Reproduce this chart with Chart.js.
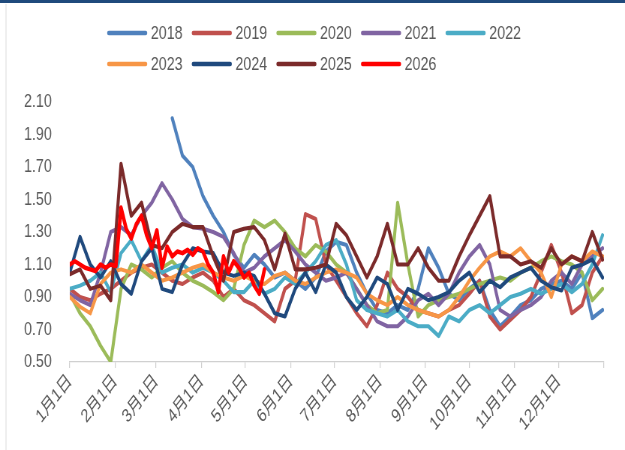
<!DOCTYPE html>
<html>
<head>
<meta charset="utf-8">
<script src="https://cdn.jsdelivr.net/npm/chart.js@4.4.1/dist/chart.umd.min.js"></script>
<style>
  html, body { margin: 0; padding: 0; background: #ffffff; }
  #wrap { width: 625px; height: 450px; overflow: hidden; background: #ffffff; }
</style>
</head>
<body>
<div id="wrap"><canvas id="c" width="833" height="450" style="display:block;width:625px;height:450px;"></canvas></div>
<script>
// ---------- data ----------
const seriesNames = ['2018','2019','2020','2021','2022','2023','2024','2025','2026'];
const monthLabels = ['1月1日','2月1日','3月1日','4月1日','5月1日','6月1日','7月1日','8月1日','9月1日','10月1日','11月1日','12月1日'];
const monthStartDays = [0,31,59,90,120,151,181,212,243,273,304,334,365];
const yTickValues = [0.50,0.70,0.90,1.10,1.30,1.50,1.70,1.90,2.10];

// day-of-year of each weekly observation
const weekDays = [0,7,14,21,28,35,42,49,56,63,70,77,84,91,98,105,112,119,126,133,140,147,154,161,168,175,182,189,196,203,210,217,224,231,238,245,252,259,266,273,280,287,294,301,308,315,322,329,336,343,350,357,364];
// day-of-year of each 2026 observation
const days2026 = [0,3.5,7,10.5,14,17.5,21,24.5,28,31.5,35,38.5,42,45.5,49,52.5,56,59.5,63,66.5,70,73.5,77,80.5,84,87.5,91,94.5,98,101.5,105,108.5,112,115.5,119,122.5,126,129.5,133];

const v2018 = [null,null,null,null,null,null,null,null,null,null,2.00,1.77,1.70,1.52,1.40,1.30,1.16,1.08,1.16,1.10,1.02,1.05,1.00,0.95,1.02,1.18,1.24,1.22,1.05,0.92,0.82,0.80,0.85,0.82,0.95,1.20,1.08,0.92,0.88,0.95,1.00,0.82,0.72,0.78,0.85,0.88,0.95,0.98,1.00,0.95,1.05,0.77,0.82];
const v2019 = [0.95,0.90,0.88,0.92,0.95,1.00,1.05,1.08,1.10,1.05,1.00,0.98,1.02,1.05,1.00,0.90,0.95,0.88,0.85,0.80,0.75,0.95,1.00,1.41,1.38,1.10,1.00,0.90,0.80,0.72,0.85,1.05,0.95,0.90,0.82,0.80,0.78,0.82,0.85,0.92,1.00,0.78,0.70,0.76,0.82,0.90,1.05,1.22,1.05,0.80,0.85,1.05,1.15];
const v2020 = [0.92,0.80,0.72,0.60,0.50,0.95,1.10,1.07,1.02,1.08,1.12,1.05,1.00,0.97,0.93,0.88,0.95,1.22,1.37,1.33,1.37,1.30,1.20,1.15,1.22,1.18,1.10,1.05,0.95,0.85,0.80,0.82,1.48,1.10,0.78,0.85,0.88,0.90,0.92,0.95,0.98,1.00,1.02,1.00,1.05,1.08,1.12,1.15,1.12,1.10,1.05,0.88,0.95];
const v2021 = [0.92,0.88,0.85,1.05,1.30,1.33,1.28,1.40,1.48,1.60,1.50,1.38,1.33,1.32,1.30,1.27,1.17,1.05,1.08,1.15,1.20,1.25,1.18,1.10,1.05,1.00,1.02,1.05,0.95,0.85,0.75,0.72,0.72,0.78,0.88,0.92,0.85,0.92,1.05,1.15,1.22,1.10,0.82,0.78,0.82,0.85,0.90,1.00,1.05,0.98,1.10,1.15,1.20];
const v2022 = [0.95,0.97,1.00,1.05,0.93,1.17,1.25,1.12,1.22,1.05,1.08,1.10,1.05,1.08,1.05,1.00,0.93,0.93,1.00,0.92,0.95,1.02,0.98,1.05,1.12,1.22,1.25,1.10,0.88,0.82,0.80,0.78,0.82,0.75,0.72,0.72,0.66,0.78,0.75,0.82,0.85,0.80,0.85,0.90,0.92,0.95,0.92,0.95,0.98,0.93,0.98,1.10,1.28];
const v2023 = [0.90,0.84,0.80,0.98,1.05,1.07,1.05,1.10,1.05,1.00,1.02,1.05,1.08,1.10,1.05,1.02,1.00,1.03,1.00,0.98,1.03,1.05,1.00,0.98,1.02,1.05,1.07,1.05,1.02,0.92,0.88,0.85,0.90,0.85,0.82,0.80,0.78,0.82,0.90,1.00,1.08,1.15,1.18,1.15,1.20,1.12,1.05,0.90,1.10,1.15,1.12,1.18,1.15];
const v2024 = [1.05,1.27,1.10,1.02,1.12,0.98,0.92,1.12,1.20,0.95,0.93,1.10,1.20,1.18,1.17,1.05,1.03,1.05,1.03,0.92,0.80,0.78,0.95,1.05,0.93,1.10,1.05,0.90,0.82,0.90,1.02,0.98,0.82,0.95,0.92,0.88,0.90,0.93,1.00,1.05,0.93,1.00,0.96,1.02,1.05,1.08,1.00,0.96,0.94,1.08,1.10,1.13,1.02];
const v2025 = [1.04,1.07,0.95,0.97,0.88,1.72,1.40,1.48,1.22,1.20,1.30,1.35,1.33,1.33,1.15,1.00,1.30,1.32,1.33,1.25,1.07,1.29,1.07,1.07,1.08,1.10,1.35,1.28,1.15,1.02,1.15,1.35,1.10,1.10,1.20,1.08,1.00,1.00,1.15,1.28,1.40,1.52,1.15,1.15,1.10,1.12,1.08,1.20,1.10,1.15,1.12,1.30,1.13];
const v2026 = [1.10,1.12,1.10,1.08,1.07,1.06,1.10,1.08,1.10,1.09,1.45,1.32,1.26,1.35,1.40,1.28,1.20,1.31,1.08,1.21,1.15,1.18,1.17,1.19,1.16,1.20,1.18,1.10,1.05,0.93,1.15,1.05,1.12,1.08,1.02,1.05,0.97,0.92,1.07];

const seriesValues = [v2018,v2019,v2020,v2021,v2022,v2023,v2024,v2025,v2026];
const seriesDays   = [weekDays,weekDays,weekDays,weekDays,weekDays,weekDays,weekDays,weekDays,days2026];
const seriesColors = ['#4f81bd','#c0504d','#9bbb59','#8064a2','#4bacc6','#f79646','#1f497d','#7b2a2a','#ff0000'];

// ---------- styling ----------
const FONT = '"Liberation Sans", Arial, "Noto Sans CJK SC", sans-serif';
const TEXT = '#595959';

function toPoints(days, vals) {
  return vals.map((v, i) => ({ x: days[i], y: v }));
}

const datasets = seriesNames.map((name, i) => ({
  label: name,
  data: toPoints(seriesDays[i], seriesValues[i]),
  borderColor: seriesColors[i],
  backgroundColor: seriesColors[i],
  borderWidth: name === '2026' ? 4.6 : 4.1,
  pointRadius: 0,
  tension: 0,
  spanGaps: false,
  borderJoinStyle: 'round',
  borderCapStyle: 'round',
  order: seriesNames.length - 1 - i
}));

const framePlugin = {
  id: 'frame',
  beforeDraw(chart) {
    const ctx = chart.ctx;
    ctx.save();
    ctx.fillStyle = '#ffffff';
    ctx.fillRect(0, 0, chart.width, chart.height);
    ctx.fillStyle = '#1f4a7c';
    ctx.fillRect(0, 0, chart.width, 3);
    ctx.strokeStyle = '#e3e3e3';
    ctx.lineWidth = 1.3;
    ctx.beginPath();
    ctx.moveTo(8, 4);
    ctx.lineTo(8, chart.height);
    ctx.stroke();
    ctx.restore();
  }
};

const legendPlugin = {
  id: 'rowLegend',
  afterDraw(chart) {
    const ctx = chart.ctx;
    ctx.save();
    ctx.font = '19px ' + FONT;
    ctx.textBaseline = 'middle';
    ctx.textAlign = 'left';
    const rowY = [33, 64];
    const perRow = 5;
    let x = 0, row = -1;
    chart.data.datasets.forEach((ds, i) => {
      const r = Math.floor(i / perRow);
      if (r !== row) { row = r; x = 143; }
      const y = rowY[r];
      ctx.strokeStyle = ds.borderColor;
      ctx.lineWidth = 4.5;
      ctx.lineCap = 'round';
      ctx.beginPath();
      ctx.moveTo(x + 2, y);
      ctx.lineTo(x + 51, y);
      ctx.stroke();
      ctx.fillStyle = TEXT;
      ctx.fillText(ds.label, x + 58, y + 1);
      x += 58 + ctx.measureText(ds.label).width + 12.5;
    });
    ctx.restore();
  }
};

new Chart(document.getElementById('c'), {
  type: 'line',
  data: { datasets },
  plugins: [framePlugin, legendPlugin],
  options: {
    responsive: false,
    devicePixelRatio: 1,
    animation: false,
    events: [],
    layout: { padding: { top: 102, right: 28, bottom: 0, left: 0 } },
    plugins: { legend: { display: false }, tooltip: { enabled: false }, title: { display: false } },
    scales: {
      x: {
        type: 'linear',
        min: 0,
        max: 365,
        afterBuildTicks(scale) { scale.ticks = monthStartDays.map(v => ({ value: v })); },
        afterFit(scale) { scale.height = 88; },
        ticks: {
          autoSkip: false,
          minRotation: 45,
          maxRotation: 45,
          padding: 2,
          color: TEXT,
          font: { family: FONT, size: 19 },
          callback: (v, i) => monthLabels[i] || ''
        },
        grid: { display: true, drawOnChartArea: false, drawTicks: true, tickLength: 6, color: '#d0d0d0', lineWidth: 1.2 },
        border: { display: true, color: '#d0d0d0', width: 1.2 }
      },
      y: {
        type: 'linear',
        min: 0.5,
        max: 2.1,
        afterBuildTicks(scale) { scale.ticks = yTickValues.map(v => ({ value: v })); },
        afterFit(scale) { scale.width = 93; },
        ticks: {
          padding: 24,
          color: TEXT,
          font: { family: FONT, size: 19 },
          callback: v => Number(v).toFixed(2)
        },
        grid: { display: false, drawTicks: false },
        border: { display: false }
      }
    }
  }
});
</script>
</body>
</html>
